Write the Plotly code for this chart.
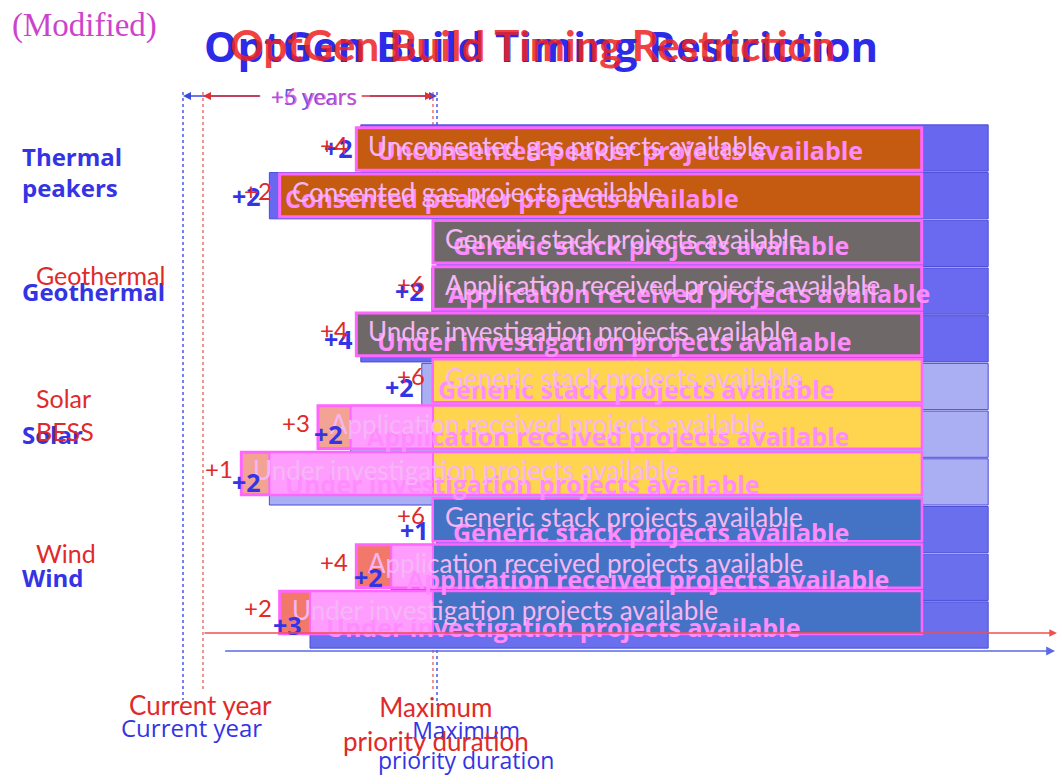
import plotly.graph_objects as go

W, H = 1059, 776

# ---------------------------------------------------------------- data
rows = list(range(11))
tech = ["thermal", "thermal", "geothermal", "geothermal", "geothermal",
        "solar", "solar", "solar", "wind", "wind", "wind"]

# original (blue) layer
base_text = [
    "Unconsented peaker projects available",
    "Consented peaker projects available",
    "Generic stack projects available",
    "Application received projects available",
    "Under investigation projects available",
    "Generic stack projects available",
    "Application received projects available",
    "Under investigation projects available",
    "Generic stack projects available",
    "Application received projects available",
    "Under investigation projects available",
]
base_start = [3.5, 1.7, 5.0, 4.9, 3.5, 4.7, 3.3, 1.7, 5.0, 4.1, 2.5]
base_lead = ["+2", "+2", "", "+2", "+4", "+2", "+2", "+2", "+1", "+2", "+3"]
base_end = 15.85
base_priority = 5
base_groups = [("Thermal<br>peakers", [0, 1]), ("Geothermal", [2, 3, 4]),
               ("Solar", [5, 6, 7]), ("Wind", [8, 9, 10])]

# modified (red) layer
mod_text = [
    "Unconsented gas projects available",
    "Consented gas projects available",
    "Generic stack projects available",
    "Application received projects available",
    "Under investigation projects available",
    "Generic stack projects available",
    "Application received projects available",
    "Under investigation projects available",
    "Generic stack projects available",
    "Application received projects available",
    "Under investigation projects available",
]
mod_start = [4, 2, 6, 6, 4, 6, 3, 1, 6, 4, 2]
mod_lead_shown = [True, True, False, True, True, True, True, True, True, True, True]
mod_end = 18.75
mod_priority = 6
mod_groups = [("Geothermal", [2, 3, 4]), ("Solar<br>BESS", [5, 6, 7]),
              ("Wind", [8, 9, 10])]

# ---------------------------------------------------------------- geometry
B_X0, B_PX = 183, 50.8      # blue: current-year pixel, pixels per year
R_X0, R_PX = 203, 38.33     # red
B_Y0, B_PITCH = 148, 47.7   # blue: first row centre, row pitch
R_Y0, R_PITCH = 149, 46.35  # red


def blue_to_red(xb):
    return (B_X0 + B_PX * xb - R_X0) / R_PX


def py(p):
    return 1 - p / H


def px(p):
    return p / W


blue_fill = {"thermal": "#6767f0", "geothermal": "#6a6af0",
             "solar": "#aaaef3", "wind": "#6a6fee"}
red_fill = {"thermal": "#c55a11", "geothermal": "#6e6868",
            "solar": "#f2a393", "wind": "#f2786a"}
tech_fill = {"solar": "#ffd44f", "wind": "#4472c4"}
PINK = "#ff9dff"
MAGENTA = "#ff66ff"
BLUE_TXT = "#3434e4"
RED_TXT = "#e02a2a"

fig = go.Figure()

# blue layer bars
fig.add_trace(go.Bar(
    y=rows, x=[base_end - s for s in base_start], base=base_start,
    orientation="h", width=0.97,
    marker=dict(color=[blue_fill[t] for t in tech],
                line=dict(color="#4c4cd8", width=1)),
    xaxis="x", yaxis="y", hoverinfo="skip", showlegend=False))

# red layer bars
fig.add_trace(go.Bar(
    y=rows, x=[mod_end - s for s in mod_start], base=mod_start,
    orientation="h", width=0.92,
    marker=dict(color=[red_fill[t] for t in tech],
                line=dict(color=MAGENTA, width=3)),
    xaxis="x2", yaxis="y2", hoverinfo="skip", showlegend=False))

# overlap of both layers before / after the priority limit (solar, wind)
ov_rows, ov_base, ov_len = [], [], []
tc_rows, tc_base, tc_len, tc_col = [], [], [], []
for r, t in zip(rows, tech):
    if t not in tech_fill:
        continue
    s = max(mod_start[r], blue_to_red(base_start[r]))
    if s < mod_priority:
        ov_rows.append(r)
        ov_base.append(s)
        ov_len.append(mod_priority - s)
    st = max(mod_start[r], mod_priority)
    tc_rows.append(r)
    tc_base.append(st)
    tc_len.append(mod_end - st)
    tc_col.append(tech_fill[t])

fig.add_trace(go.Bar(
    y=ov_rows, x=ov_len, base=ov_base, orientation="h", width=0.92,
    marker=dict(color=PINK, line=dict(color=MAGENTA, width=2)),
    xaxis="x2", yaxis="y2", hoverinfo="skip", showlegend=False))
fig.add_trace(go.Bar(
    y=tc_rows, x=tc_len, base=tc_base, orientation="h", width=0.92,
    marker=dict(color=tc_col, line=dict(color=MAGENTA, width=2)),
    xaxis="x2", yaxis="y2", hoverinfo="skip", showlegend=False))

ann = []


def note(**kw):
    kw.setdefault("showarrow", False)
    kw.setdefault("xanchor", "center")
    kw.setdefault("yanchor", "middle")
    ann.append(kw)


# bar captions
for r in rows:
    note(x=base_start[r], y=r, xref="x", yref="y", text=base_text[r],
         xanchor="left", xshift=14, yshift=-2,
         font=dict(family="Open Sans", size=25, color="#ff8cff", weight="bold"))
for r in rows:
    note(x=mod_start[r], y=r, xref="x2", yref="y2", text=mod_text[r],
         xanchor="left", xshift=10, yshift=3,
         font=dict(family="Lato", size=26, color="#f6b6f6"))

# lead-time labels
for r in rows:
    if base_lead[r]:
        note(x=base_start[r], y=r, xref="x", yref="y", text=base_lead[r],
             xanchor="right", xshift=-6,
             font=dict(family="Open Sans", size=25, color=BLUE_TXT,
                       weight="bold"))
for r in rows:
    if mod_lead_shown[r]:
        note(x=mod_start[r], y=r, xref="x2", yref="y2",
             text="+%d" % mod_start[r], xanchor="right", xshift=-6, yshift=5,
             font=dict(family="Lato", size=24, color=RED_TXT))

# technology labels
for name, grp in base_groups:
    note(x=px(20), y=sum(grp) / len(grp), xref="paper", yref="y",
         text=name, xanchor="left", align="left",
         font=dict(family="Open Sans", size=24, color=BLUE_TXT, weight="bold"))
for name, grp in mod_groups:
    note(x=px(34), y=sum(grp) / len(grp), xref="paper", yref="y2",
         text=name, xanchor="left", align="left", yshift=13,
         font=dict(family="Lato", size=25, color=RED_TXT))

# titles
note(x=px(541), y=py(45), xref="paper", yref="paper",
     text="OptGen Build Timing Restriction",
     font=dict(family="Open Sans", size=42, color="#2b2be8", weight="bold"))
note(x=px(532), y=py(45), xref="paper", yref="paper",
     text="OptGen Build Timing Restriction", opacity=0.85,
     font=dict(family="Lato", size=42, color="#ee2222", weight="bold"))
note(x=px(10), y=py(26), xref="paper", yref="paper", text="(Modified)",
     xanchor="left",
     font=dict(family="Liberation Serif", size=33, color="#cc44cc"))

# bottom markers
note(x=0, y=py(727), xref="x", yref="paper", text="Current year", xshift=8,
     font=dict(family="Open Sans", size=24, color=BLUE_TXT))
note(x=0, y=py(705), xref="x2", yref="paper", text="Current year", xshift=-3,
     font=dict(family="Lato", size=26, color=RED_TXT))
note(x=base_priority, y=py(745), xref="x", yref="paper",
     text="Maximum<br>priority duration", xshift=29,
     font=dict(family="Open Sans", size=23, color=BLUE_TXT))
note(x=mod_priority, y=py(724), xref="x2", yref="paper",
     text="Maximum<br>priority duration", xshift=3,
     font=dict(family="Lato", size=26, color=RED_TXT))

# span arrows at the top
note(x=base_priority / 2, y=py(96), xref="x", yref="paper",
     text="+%d years" % base_priority, xshift=4,
     font=dict(family="Open Sans", size=22, color="#5a5ae8"))
note(x=mod_priority / 2, y=py(96), xref="x2", yref="paper",
     text="+%d years" % mod_priority, xshift=-4, opacity=0.8,
     font=dict(family="Lato", size=23, color="#e04ad0"))
for x_head, x_tail, ref, col in [
        (0, 1.55, "x", "#3a4ae0"), (base_priority, 3.65, "x", "#3a4ae0"),
        (0, 1.5, "x2", "#e03030"), (mod_priority, 4.1, "x2", "#e03030")]:
    note(x=x_head, y=py(96), xref=ref, yref="paper",
         ax=x_tail, axref=ref, ay=0, ayref="pixel",
         text="", showarrow=True, arrowhead=2, arrowsize=1,
         arrowwidth=1.6, arrowcolor=col)

# time axes
note(x=(1055 - B_X0) / B_PX, y=py(651), xref="x", yref="paper",
     ax=0.8, axref="x", ay=0, ayref="pixel", text="",
     showarrow=True, arrowhead=2, arrowsize=1.1, arrowwidth=1.6,
     arrowcolor="#5a6ae6")
note(x=(1057 - R_X0) / R_PX, y=py(633), xref="x2", yref="paper",
     ax=0, axref="x2", ay=0, ayref="pixel", text="",
     showarrow=True, arrowhead=2, arrowsize=1.1, arrowwidth=1.4,
     arrowcolor="#ee5050")

shapes = [
    dict(type="line", xref="x", yref="paper", x0=0, x1=0, y0=py(92), y1=py(700),
         line=dict(color="#4a5ae0", width=1.5, dash="dot"), layer="below"),
    dict(type="line", xref="x", yref="paper", x0=base_priority, x1=base_priority,
         y0=py(92), y1=py(705),
         line=dict(color="#4a5ae0", width=1.5, dash="dot"), layer="below"),
    dict(type="line", xref="x2", yref="paper", x0=0, x1=0, y0=py(92), y1=py(690),
         line=dict(color="#e05050", width=1.2, dash="dot"), layer="below"),
    dict(type="line", xref="x2", yref="paper", x0=mod_priority, x1=mod_priority,
         y0=py(92), y1=py(690),
         line=dict(color="#e05050", width=1.2, dash="dot"), layer="below"),
]

fig.update_layout(
    width=W, height=H, margin=dict(l=0, r=0, t=0, b=0),
    paper_bgcolor="white", plot_bgcolor="white",
    barmode="overlay", showlegend=False,
    xaxis=dict(range=[-B_X0 / B_PX, (W - B_X0) / B_PX], visible=False,
               domain=[0, 1], fixedrange=True),
    yaxis=dict(range=[(H - B_Y0) / B_PITCH, -B_Y0 / B_PITCH], visible=False,
               domain=[0, 1], fixedrange=True),
    xaxis2=dict(range=[-R_X0 / R_PX, (W - R_X0) / R_PX], visible=False,
                overlaying="x", anchor="y2", fixedrange=True),
    yaxis2=dict(range=[(H - R_Y0) / R_PITCH, -R_Y0 / R_PITCH], visible=False,
                overlaying="y", anchor="x2", fixedrange=True),
    annotations=ann, shapes=shapes,
)

fig.write_html("out.html")
